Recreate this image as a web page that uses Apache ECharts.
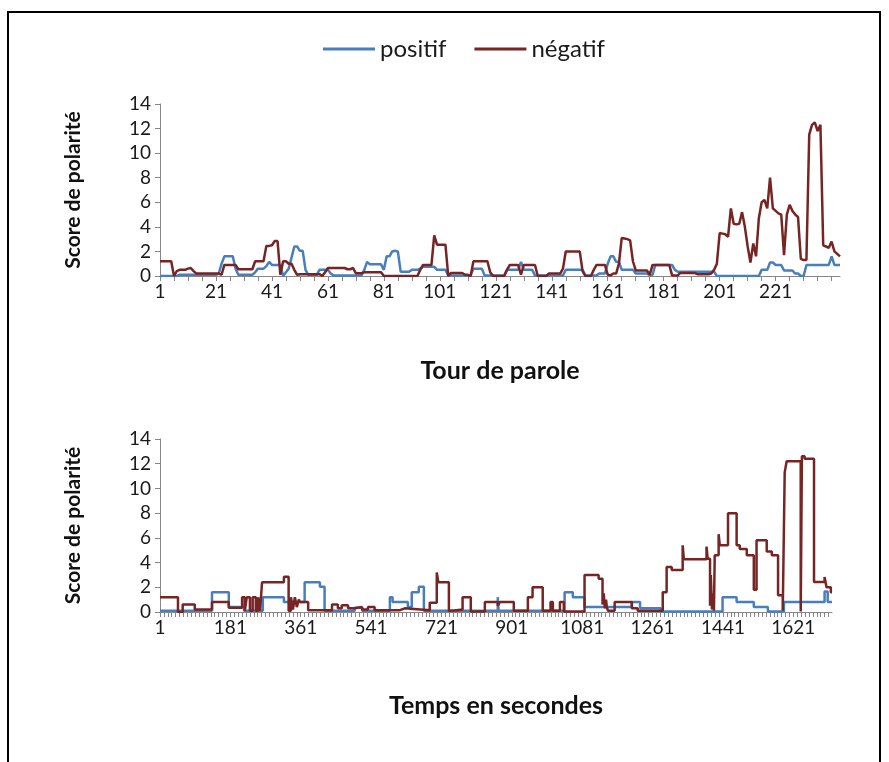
<!DOCTYPE html>
<html>
<head>
<meta charset="utf-8">
<title>Score de polarité</title>
<script src="https://cdn.jsdelivr.net/npm/echarts@6/dist/echarts.min.js"></script>
<style>
  html, body { margin: 0; padding: 0; background: #fff; }
  #chart { width: 889px; height: 762px; }
</style>
</head>
<body>
<div id="chart"></div>
<script>
// tour de parole: one value per turn
const turnCount = 244;
const turns = Array.from({ length: turnCount }, (_, i) => String(i + 1));
const turnLabelStep = 20;
const lastTurnLabel = 221;

const positifTours = [
  0, 0, 0, 0, 0, 0, 0, 0.1, 0.1, 0.1,
  0.1, 0.1, 0.1, 0.1, 0.1, 0.1, 0.1, 0.1, 0.1, 0.1, 0.1,
  0.2, 1.0, 1.6, 1.6, 1.6, 1.6, 0.6, 0.1, 0.1, 0.1,
  0.1, 0.1, 0.1, 0.3, 0.6, 0.6, 0.6, 0.8, 1.15, 0.9,
  0.9, 0.9, 0.9, 0, 0.3, 0.6, 1.5, 2.4, 2.4, 2.05,
  2.05, 0.5, 0.1, 0.1, 0.1, 0.1, 0.5, 0.5, 0.5, 0.5, 0.2,
  0.05, 0.05, 0.05, 0.05, 0.05, 0.05, 0.05, 0.05, 0.05, 0.05,
  0.05, 0.5, 1.15, 0.95, 0.95, 0.95, 0.95, 0.95, 0.5, 1.6,
  1.6, 2.0, 2.05, 2.0, 0.35, 0.35, 0.35, 0.35, 0.5, 0.5, 0.5,
  0.6, 0.75, 0.75, 0.75, 0.75, 0.75, 0.5, 0.5, 0.5, 0.5,
  0.05, 0.05, 0.05, 0.05, 0.05, 0.05, 0.05, 0.05, 0.05, 0.6,
  0.6, 0.6, 0.6, 0.05, 0.05, 0.05, 0.05, 0.05, 0.05, 0.05, 0.05,
  0.5, 0.5, 0.5, 0.5, 0.5, 1.15, 0.5, 0.5, 0.5, 0.5,
  0.05, 0.05, 0.05, 0.05, 0.05, 0.05, 0.05, 0.05, 0.05, 0.05,
  0.05, 0.5, 0.5, 0.5, 0.5, 0.5, 0.5, 0.5, 0.05, 0.05, 0.05,
  0.05, 0.05, 0.2, 0.2, 0.2, 1.0, 1.6, 1.6, 1.15, 1.15,
  0.5, 0.5, 0.5, 0.5, 0.5, 0.2, 0.2, 0.2, 0.2, 0.2,
  0.08, 0.08, 0.9, 0.9, 0.9, 0.9, 0.9, 0.9, 0.9, 0.5, 0.35,
  0.35, 0.35, 0.35, 0.35, 0.35, 0.35, 0.35, 0.35, 0.35, 0.35, 0.35,
  0.35, 0.35, 0, 0, 0, 0, 0, 0, 0, 0,
  0, 0, 0, 0, 0, 0, 0, 0, 0.5, 0.5,
  0.5, 1.1, 1.1, 0.9, 0.9, 0.9, 0.45, 0.45, 0.45, 0.45,
  0.2, 0.2, 0, 0, 0.9, 0.9, 0.9, 0.9, 0.9, 0.9,
  0.9, 0.9, 0.9, 1.6, 0.9, 0.9, 0.9
];

const negatifTours = [
  1.2, 1.2, 1.2, 1.2, 1.2, 0, 0.4, 0.5, 0.5, 0.5,
  0.6, 0.65, 0.4, 0.2, 0.2, 0.2, 0.2, 0.2, 0.2, 0.2, 0.2,
  0.2, 0.1, 0.9, 0.9, 0.9, 0.9, 0.9, 0.55, 0.55, 0.55,
  0.55, 0.55, 0.55, 1.2, 1.2, 1.2, 1.2, 2.45, 2.45, 2.5,
  2.85, 2.85, 0.1, 1.2, 1.2, 1.0, 1.0, 0.5, 0.1, 0.15,
  0.15, 0.15, 0.15, 0.15, 0.15, 0.15, 0.15, 0, 0.3, 0.65, 0.65,
  0.65, 0.65, 0.65, 0.65, 0.65, 0.55, 0.55, 0.65, 0.22, 0.22,
  0.22, 0.3, 0.3, 0.3, 0.3, 0.3, 0.3, 0.3, 0, 0,
  0, 0, 0, 0, 0, 0, 0, 0, 0, 0, 0,
  0.5, 0.9, 0.9, 0.9, 0.9, 3.3, 2.55, 2.55, 2.55, 2.55,
  0, 0.25, 0.25, 0.25, 0.25, 0.25, 0.1, 0.1, 0, 1.2,
  1.2, 1.2, 1.2, 1.2, 1.2, 0.3, 0, 0, 0, 0, 0,
  0.5, 0.9, 0.9, 0.9, 0.9, 0.1, 0.9, 0.9, 0.9, 0.9,
  0.9, 0, 0, 0, 0, 0.2, 0.2, 0.2, 0.2, 0.2,
  0.6, 2.0, 2.0, 2.0, 2.0, 2.0, 2.0, 0.4, 0, 0, 0,
  0.5, 0.9, 0.9, 0.9, 0.9, 0.1, 0.05, 0.2, 0.2, 1.0,
  3.1, 3.05, 3.0, 2.9, 1.2, 0.45, 0.45, 0.45, 0.45, 0.45,
  0.1, 0.9, 0.9, 0.9, 0.9, 0.9, 0.9, 0.9, 0.05, 0.05, 0.05,
  0.25, 0.25, 0.25, 0.25, 0.25, 0.25, 0.15, 0.15, 0.15, 0.15, 0.15,
  0.2, 0.5, 1.0, 3.5, 3.45, 3.4, 3.2, 5.5, 4.25, 4.2,
  4.25, 5.2, 4.0, 2.4, 1.1, 2.65, 1.6, 4.7, 6.0, 6.2,
  5.5, 8.0, 5.5, 5.3, 5.1, 5.0, 1.7, 5.0, 5.8, 5.3,
  5.0, 4.8, 1.4, 1.3, 1.3, 11.5, 12.3, 12.5, 11.8, 12.3,
  2.5, 2.4, 2.3, 2.8, 2.0, 1.8, 1.6
];

// temps en secondes: the score is held from each listed second to the next one
const lastSecond = 1720;
const timeLabels = [1, 181, 361, 541, 721, 901, 1081, 1261, 1441, 1621];
const timeTickStep = 10;

const positifSecondes = [1, 134, 177, 216, 264, 318, 371, 410, 422, 499, 518, 589, 596, 635, 645, 663, 676,
  865, 867, 1036, 1057, 1087, 1208, 1229, 1282, 1440, 1476, 1520, 1556, 1597, 1701, 1709, 1720];
const positifValeurs = [0.1, 1.6, 0.4, 0.1, 1.2, 0.8, 2.4, 2.05, 0.1, 0.35, 0.1, 1.2, 0.8, 0.4, 1.6, 2.05, 0.1,
  1.2, 0.1, 1.6, 1.2, 0.4, 0.8, 0.3, 0.05, 1.2, 0.8, 0.4, 0.05, 0.8, 1.65, 0.8, 0.8];

const negatifSecondes = [1, 47, 59, 90, 134, 177, 211, 218, 223, 231, 238, 246, 252, 257, 262, 318, 330, 336,
  341, 346, 351, 356, 359, 380, 441, 456, 466, 482, 499, 518, 533, 550, 615, 627, 691, 709, 713, 740, 748,
  775, 796, 832, 865, 870, 906, 942, 954, 980, 1000, 1006, 1024, 1034, 1087, 1123, 1133, 1136, 1139, 1142,
  1144, 1147, 1164, 1208, 1223, 1287, 1297, 1310, 1338, 1341, 1399, 1402, 1408, 1410, 1413, 1415, 1418,
  1420, 1430, 1433, 1454, 1476, 1484, 1502, 1520, 1527, 1553, 1566, 1582, 1594, 1599, 1604, 1640, 1643,
  1650, 1674, 1701, 1706, 1717, 1720];
const negatifValeurs = [1.2, 0, 0.6, 0.2, 0.8, 0.35, 1.2, 0.1, 1.2, 0.1, 1.2, 0.1, 1.2, 0.1, 2.4, 2.85, 0.1, 1.2,
  0.2, 1.2, 0.4, 1.0, 0.8, 0.15, 0.6, 0.3, 0.55, 0.3, 0.4, 0.2, 0.4, 0.15, 0.3, 0.15, 0.75, 3.2, 2.4, 0.1, 0.2,
  1.2, 0.05, 0.8, 0.5, 0.8, 0.1, 1.2, 2.0, 0.1, 0.8, 0.1, 0.8, 0.05, 3.0, 2.7, 0.6, 1.5, 0.3, 1.0,
  0.4, 0.1, 0.8, 0.3, 0.1, 1.6, 3.65, 3.4, 5.4, 4.27, 5.3, 4.3, 0.5, 3.0, 0.2, 1.5, 0.1,
  4.6, 6.3, 5.4, 8.0, 5.4, 5.1, 4.6, 1.8, 5.8, 4.9, 4.6, 1.35, 0.1, 11.3, 12.2, 0.05, 12.6,
  12.4, 2.43, 2.84, 2.0, 1.6, 1.6];

if (positifTours.length !== turnCount || negatifTours.length !== turnCount) {
  throw new Error('turn arrays: ' + positifTours.length + ' / ' + negatifTours.length);
}
if (positifSecondes.length !== positifValeurs.length || negatifSecondes.length !== negatifValeurs.length) {
  throw new Error('time arrays length mismatch');
}

const BLUE = '#4a7ebb';
const RED = '#772424';
const AXIS = '#868686';
const FONT = 'Lato, "Open Sans", sans-serif';
const titleStyle = { fontFamily: FONT, fontWeight: 'bold', color: '#111' };
const tickFont = { fontFamily: FONT, fontSize: 19, color: '#1a1a1a' };

// x value = second - 1, so the first second sits on the y axis
const toPairs = (secs, vals) => secs.map((s, i) => [s - 1, vals[i]]);
const tickValues = [];
for (let v = 0; v <= lastSecond - 1; v += timeTickStep) tickValues.push(v);

const yAxisBase = (gridIndex) => ({
  type: 'value',
  gridIndex,
  min: 0,
  max: 14,
  interval: 2,
  name: 'Score de polarité',
  nameLocation: 'middle',
  nameGap: 76,
  nameTextStyle: { ...titleStyle, fontSize: 21 },
  axisLine: { show: true, lineStyle: { color: AXIS, width: 1 } },
  axisTick: { show: true, length: 5, lineStyle: { color: AXIS } },
  splitLine: { show: false },
  axisLabel: { ...tickFont, margin: 9 }
});

const lineStyle = (color) => ({ color, width: 2.5 });

const chart = echarts.init(document.getElementById('chart'));
chart.setOption({
  backgroundColor: '#fff',
  animation: false,
  textStyle: { fontFamily: FONT },
  graphic: [{
    type: 'rect',
    shape: { x: 8, y: 12, width: 872, height: 800 },
    style: { fill: 'none', stroke: '#000', lineWidth: 2 },
    silent: true
  }],
  legend: {
    left: 318,
    top: 32,
    icon: 'rect',
    itemWidth: 52,
    itemHeight: 3,
    itemGap: 28,
    textStyle: { fontFamily: FONT, fontSize: 24, color: '#1a1a1a' },
    data: ['positif', 'négatif']
  },
  grid: [
    { left: 160, top: 104, width: 680, height: 172 },
    { left: 160, top: 439, width: 672, height: 173 }
  ],
  xAxis: [
    {
      type: 'category',
      gridIndex: 0,
      data: turns,
      boundaryGap: false,
      name: 'Tour de parole',
      nameLocation: 'middle',
      nameGap: 82,
      nameTextStyle: { ...titleStyle, fontSize: 25, verticalAlign: 'top' },
      axisLine: { lineStyle: { color: AXIS, width: 1 } },
      axisTick: { interval: 4, length: 5, lineStyle: { color: AXIS } },
      axisLabel: {
        ...tickFont,
        interval: (idx) => idx % turnLabelStep === 0 && idx < lastTurnLabel,
        margin: 6
      }
    },
    {
      type: 'value',
      gridIndex: 1,
      min: 0,
      max: lastSecond - 1,
      name: 'Temps en secondes',
      nameLocation: 'middle',
      nameGap: 81,
      nameTextStyle: { ...titleStyle, fontSize: 25, verticalAlign: 'top' },
      axisLine: { lineStyle: { color: AXIS, width: 1 } },
      axisTick: { customValues: tickValues, length: 5, lineStyle: { color: AXIS } },
      splitLine: { show: false },
      axisLabel: {
        ...tickFont,
        customValues: timeLabels.map((s) => s - 1),
        formatter: (v) => String(v + 1),
        margin: 6
      }
    }
  ],
  yAxis: [yAxisBase(0), yAxisBase(1)],
  series: [
    {
      name: 'positif', type: 'line', xAxisIndex: 0, yAxisIndex: 0,
      data: positifTours, symbol: 'none', lineStyle: lineStyle(BLUE), itemStyle: { color: BLUE }
    },
    {
      name: 'négatif', type: 'line', xAxisIndex: 0, yAxisIndex: 0,
      data: negatifTours, symbol: 'none', lineStyle: lineStyle(RED), itemStyle: { color: RED }
    },
    {
      name: 'positif', type: 'line', xAxisIndex: 1, yAxisIndex: 1, step: 'end',
      data: toPairs(positifSecondes, positifValeurs), symbol: 'none', lineStyle: lineStyle(BLUE), itemStyle: { color: BLUE }
    },
    {
      name: 'négatif', type: 'line', xAxisIndex: 1, yAxisIndex: 1, step: 'end',
      data: toPairs(negatifSecondes, negatifValeurs), symbol: 'none', lineStyle: lineStyle(RED), itemStyle: { color: RED }
    }
  ]
});
</script>
</body>
</html>
